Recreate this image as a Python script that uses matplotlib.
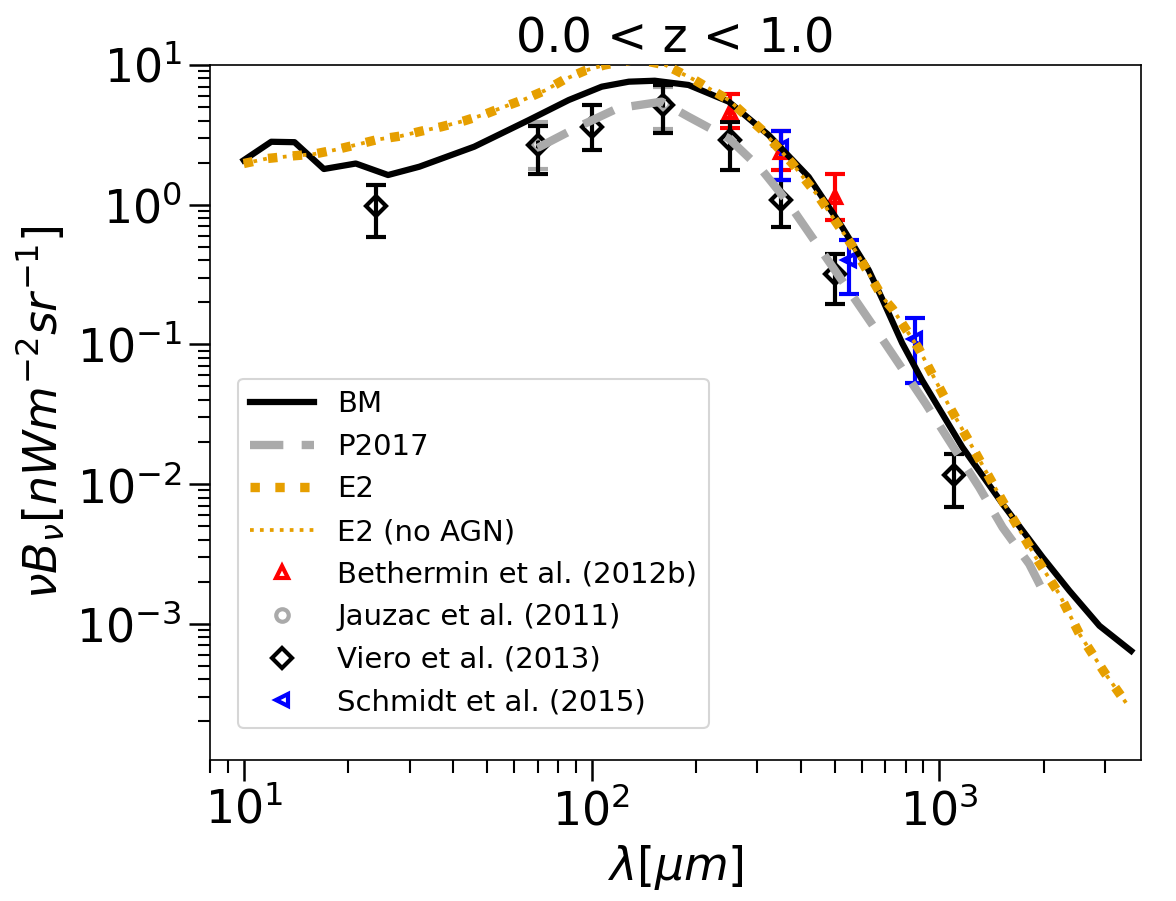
import numpy as np
import matplotlib
matplotlib.use('Agg')
import matplotlib.pyplot as plt
from matplotlib.container import ErrorbarContainer

# model curves (lambda in micron, nuB_nu in nW m^-2 sr^-1)
bm_lam = [10, 12, 14, 17, 21, 26, 32, 46, 66, 86, 107, 128, 152, 190, 248, 323,
          421, 525, 627, 686, 782, 893, 1165, 1520, 1982, 2365, 2886, 3560]
bm_val = [2.08, 2.82, 2.80, 1.80, 1.97, 1.63, 1.87, 2.6, 4.03, 5.61, 6.99, 7.59,
          7.71, 7.19, 5.46, 3.15, 1.58, 0.693, 0.339, 0.21, 0.102, 0.0552,
          0.01836, 0.00721, 0.00299, 0.001725, 0.000968, 0.00064]

p17_lam = [70, 91.6, 119, 159, 190, 248, 309, 369, 450, 549, 700, 914, 1067,
           1301, 1520, 1813, 2018]
p17_val = [2.55, 3.61, 4.90, 5.46, 4.26, 2.98, 1.77, 1.02, 0.499, 0.244, 0.101,
           0.0376, 0.0205, 0.0095, 0.0049, 0.00268, 0.00159]

e2_lam = [10, 11.7, 13.7, 15.9, 18.2, 21.3, 24.3, 28.3, 32.4, 37, 43.2, 49.3,
          56.2, 64.2, 73.3, 83.7, 95.7, 109, 135, 163, 198, 248, 309, 377, 450,
          573, 686, 733, 873, 1067, 1245, 1520, 1896, 2213, 2529, 2985, 3522]
e2_val = [1.97, 2.14, 2.23, 2.30, 2.46, 2.70, 2.93, 3.10, 3.36, 3.61, 3.99, 4.43,
          5.03, 5.68, 6.55, 7.89, 9.10, 10.0, 11.0, 10.0, 7.8, 5.61, 3.42, 1.98,
          1.14, 0.472, 0.218, 0.18, 0.093, 0.0362, 0.01836, 0.00755, 0.00298,
          0.00163, 0.000844, 0.000448, 0.000251]

e2_noagn_lam = list(e2_lam)
e2_noagn_val = list(e2_val)

# observational points
beth_lam = [250, 350, 500]
beth_val = [4.63, 2.40, 1.14]
beth_hi = [6.2, 3.38, 1.67]
beth_lo = [3.52, 1.77, 0.783]

jauz_lam = [70, 160]
jauz_val = [2.7, 5.3]
jauz_hi = [3.92, 7.0]
jauz_lo = [1.8, 3.5]

vier_lam = [24, 70, 100, 160, 250, 350, 500, 1100]
vier_val = [0.98, 2.67, 3.61, 5.17, 2.90, 1.08, 0.321, 0.0116]
vier_hi = [1.38, 3.67, 5.17, 7.19, 3.92, 1.5, 0.447, 0.0164]
vier_lo = [0.588, 1.67, 2.46, 3.24, 1.77, 0.693, 0.196, 0.00682]

schm_lam = [350, 550, 850]
schm_val = [2.60, 0.40, 0.110]
schm_hi = [3.38, 0.557, 0.155]
schm_lo = [1.50, 0.231, 0.0528]


def yerr(val, lo, hi):
    val = np.array(val)
    return [val - np.array(lo), np.array(hi) - val]


fig = plt.figure(figsize=(7.84, 6.007), dpi=150)
ax = fig.add_axes([210 / 1176, 1 - 760 / 901, 931 / 1176, 695 / 901])

ax.plot(bm_lam, bm_val, color='black', lw=3, label='BM', zorder=3)
ax.plot(p17_lam, p17_val, color='#aaaaaa', lw=4, ls='--', dashes=(4, 2.2),
        label='P2017', zorder=3)
ax.plot(e2_lam, e2_val, color='#e69f00', lw=4.5, ls=':', label='E2', zorder=3)
ax.plot(e2_noagn_lam, e2_noagn_val, color='#e69f00', lw=1.8, ls=':',
        label='E2 (no AGN)', zorder=3)

eb = dict(capsize=5, elinewidth=2, capthick=1.8, ls='none', mfc='none', mew=2)
ax.errorbar(beth_lam, beth_val, yerr=yerr(beth_val, beth_lo, beth_hi), fmt='^',
            color='red', ms=6, label='Bethermin et al. (2012b)', **eb)
ax.errorbar(jauz_lam, jauz_val, yerr=yerr(jauz_val, jauz_lo, jauz_hi), fmt='o',
            color='#aaaaaa', ms=6, label='Jauzac et al. (2011)', **eb)
ax.errorbar(vier_lam, vier_val, yerr=yerr(vier_val, vier_lo, vier_hi), fmt='D',
            color='black', ms=6.5, label='Viero et al. (2013)', **eb)
ax.errorbar(schm_lam, schm_val, yerr=yerr(schm_val, schm_lo, schm_hi), fmt='<',
            color='blue', ms=6, label='Schmidt et al. (2015)', **eb)

ax.set_xscale('log')
ax.set_yscale('log')
ax.set_xlim(8, 3800)
ax.set_ylim(1.06e-4, 10)

ax.tick_params(which='major', labelsize=22, length=10, width=1.2)
ax.tick_params(which='minor', length=6, width=1.0)
ax.set_xlabel(r'$\lambda [\mu m]$', fontsize=22)
ax.set_ylabel(r'$\nu B_{\nu} [nWm^{-2}sr^{-1}]$', fontsize=22)
ax.set_title('0.0 < z < 1.0', fontsize=23)

handles, labels = ax.get_legend_handles_labels()
handles = [h[0] if isinstance(h, ErrorbarContainer) else h for h in handles]
ax.legend(handles, labels, loc='lower left', bbox_to_anchor=(0.030, 0.046),
          borderaxespad=0, fontsize=14, numpoints=1, labelspacing=0.5,
          handlelength=2.2)

fig.savefig('out.png', dpi=150)
